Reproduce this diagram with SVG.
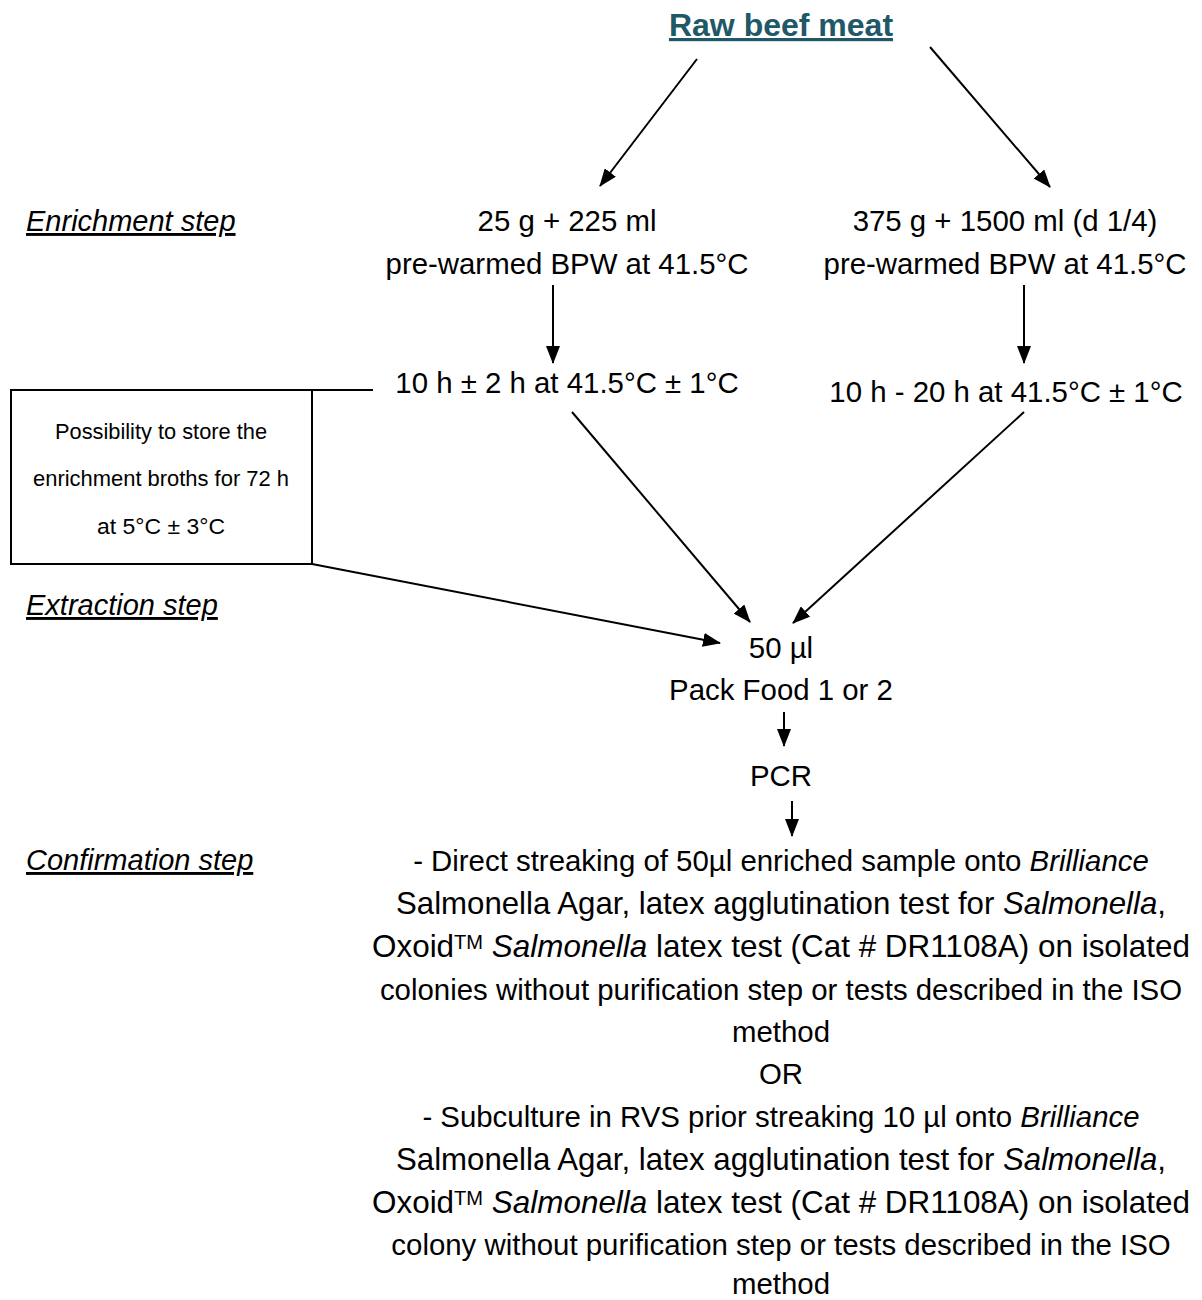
<svg xmlns="http://www.w3.org/2000/svg" width="1202" height="1300" viewBox="0 0 1202 1300">
<style>
text{font-family:"Liberation Sans",Arial,sans-serif;fill:#000}
.t{font-size:29.4px;text-anchor:middle}
.tb{font-size:31.3px;text-anchor:middle}
.lab{font-size:29px;font-style:italic;text-decoration:underline}
.box{font-size:22px;text-anchor:middle}
.title{font-size:32px;font-weight:bold;fill:#215868;text-anchor:middle;text-decoration:underline}
.c{stroke:#000;stroke-width:2;fill:none}
</style>
<defs>
<marker id="ah" markerUnits="userSpaceOnUse" markerWidth="18" markerHeight="14" refX="17" refY="7" orient="auto">
<path d="M0,0 L18,7 L0,14 Z" fill="#000"/>
</marker>
</defs>
<rect width="1202" height="1300" fill="#fff"/>
<g id="title"><text class="title" x="781" y="36">Raw beef meat</text></g>
<g id="labels">
<text class="lab" x="26" y="231">Enrichment step</text>
<text class="lab" x="26" y="615">Extraction step</text>
<text class="lab" x="26" y="870">Confirmation step</text>
</g>
<g id="enrich-left"><text class="t" x="567" y="231">25 g + 225 ml</text><text class="t" x="567" y="274">pre-warmed BPW at 41.5°C</text></g>
<g id="enrich-right"><text class="t" x="1005" y="231">375 g + 1500 ml (d 1/4)</text><text class="t" x="1005" y="274">pre-warmed BPW at 41.5°C</text></g>
<g id="incub-left"><text class="t" x="567" y="393">10 h ± 2 h at 41.5°C ± 1°C</text></g>
<g id="incub-right"><text class="t" x="1006" y="402">10 h - 20 h at 41.5°C ± 1°C</text></g>
<g id="store-box">
<rect x="11" y="390" width="301" height="174" fill="none" stroke="#000" stroke-width="2"/>
<text class="box" x="161" y="439" textLength="212" lengthAdjust="spacingAndGlyphs">Possibility to store the</text>
<text class="box" x="161" y="486" textLength="256" lengthAdjust="spacingAndGlyphs">enrichment broths for 72 h</text>
<text class="box" x="161" y="534" textLength="128" lengthAdjust="spacingAndGlyphs">at 5°C ± 3°C</text>
</g>
<g id="extraction"><text class="t" x="781" y="658">50 µl</text><text class="t" x="781" y="700">Pack Food 1 or 2</text></g>
<g id="pcr"><text class="t" x="781" y="786">PCR</text></g>
<g id="confirmation">
<text class="t" x="781" y="871">- Direct streaking of 50µl enriched sample onto <tspan font-style="italic">Brilliance</tspan></text>
<text class="tb" x="781" y="914" textLength="770" lengthAdjust="spacingAndGlyphs">Salmonella Agar, latex agglutination test for <tspan font-style="italic">Salmonella</tspan>,</text>
<text class="tb" x="781" y="957" textLength="818" lengthAdjust="spacingAndGlyphs">Oxoid<tspan font-size="20" baseline-shift="40%">TM</tspan> <tspan font-style="italic">Salmonella</tspan> latex test (Cat # DR1108A) on isolated</text>
<text class="t" x="781" y="1000">colonies without purification step or tests described in the ISO</text>
<text class="t" x="781" y="1042">method</text>
<text class="t" x="781" y="1084">OR</text>
<text class="t" x="781" y="1127">- Subculture in RVS prior streaking 10 µl onto <tspan font-style="italic">Brilliance</tspan></text>
<text class="tb" x="781" y="1170" textLength="770" lengthAdjust="spacingAndGlyphs">Salmonella Agar, latex agglutination test for <tspan font-style="italic">Salmonella</tspan>,</text>
<text class="tb" x="781" y="1213" textLength="818" lengthAdjust="spacingAndGlyphs">Oxoid<tspan font-size="20" baseline-shift="40%">TM</tspan> <tspan font-style="italic">Salmonella</tspan> latex test (Cat # DR1108A) on isolated</text>
<text class="t" x="781" y="1255">colony without purification step or tests described in the ISO</text>
<text class="t" x="781" y="1294">method</text>
</g>
<g id="connectors">
<line class="c" x1="697" y1="59" x2="600" y2="186" marker-end="url(#ah)"/>
<line class="c" x1="930" y1="47" x2="1050" y2="187" marker-end="url(#ah)"/>
<line class="c" x1="553" y1="285" x2="553" y2="363" marker-end="url(#ah)"/>
<line class="c" x1="1024" y1="285" x2="1024" y2="363" marker-end="url(#ah)"/>
<line class="c" x1="572" y1="412" x2="750" y2="622" marker-end="url(#ah)"/>
<line class="c" x1="1024" y1="412" x2="793" y2="623" marker-end="url(#ah)"/>
<line class="c" x1="312" y1="390" x2="373" y2="390"/>
<line class="c" x1="312" y1="564" x2="720" y2="643" marker-end="url(#ah)"/>
<line class="c" x1="784" y1="712" x2="784" y2="746" marker-end="url(#ah)"/>
<line class="c" x1="792" y1="801" x2="792" y2="836" marker-end="url(#ah)"/>
</g>
</svg>
